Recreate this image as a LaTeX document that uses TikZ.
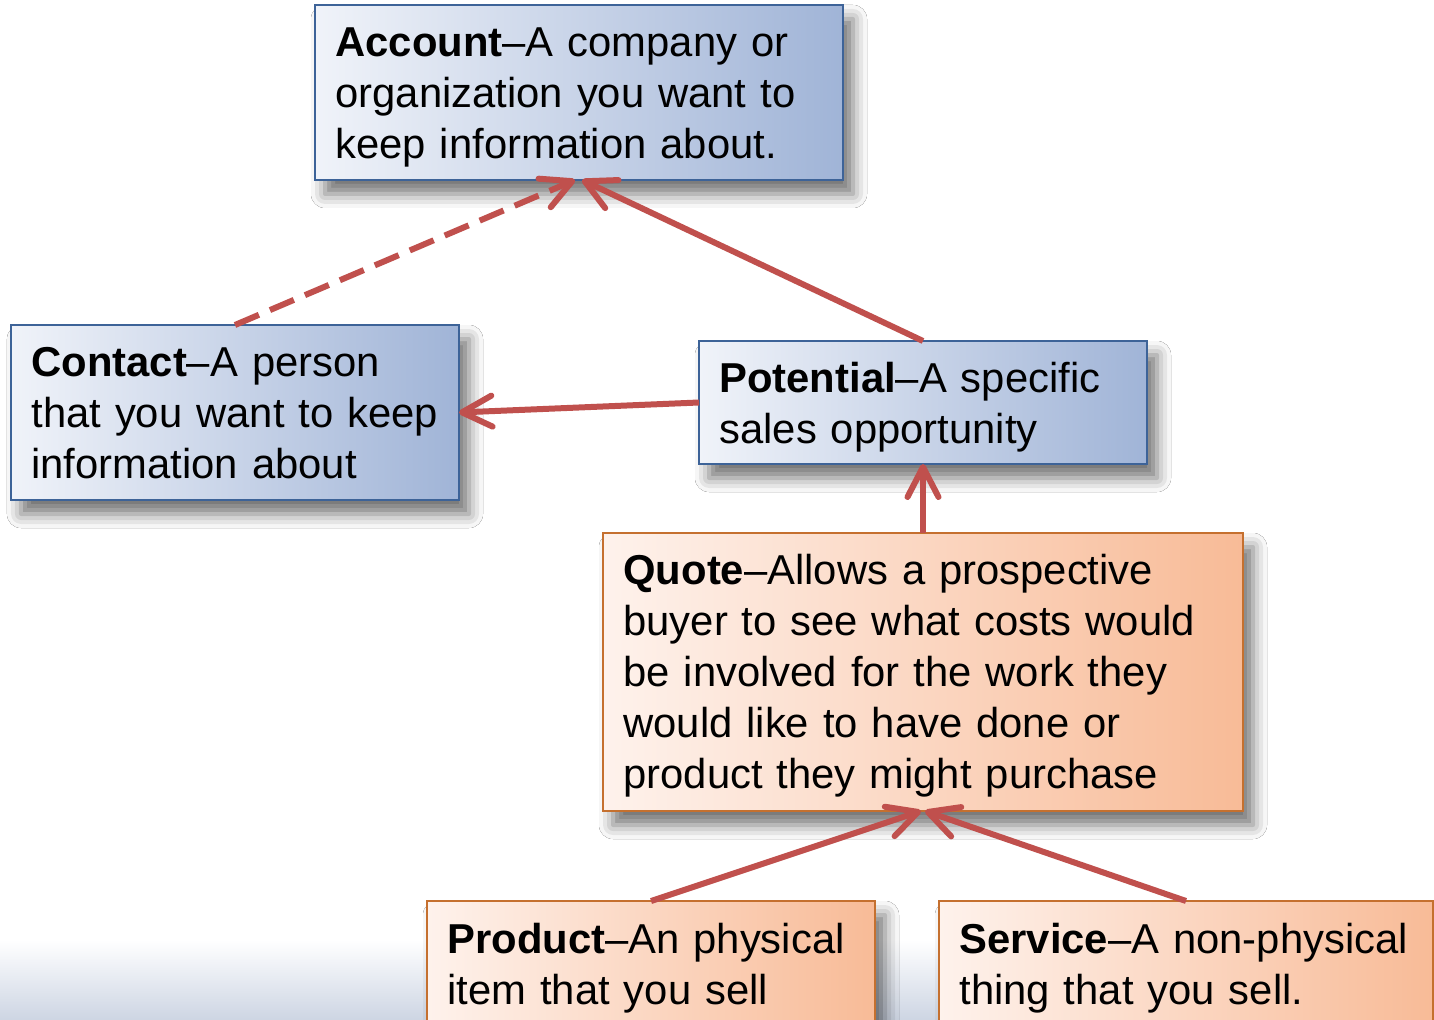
\documentclass[tikz,border=0pt]{standalone}
\usepackage{fontspec}
\setmainfont{Liberation Sans}
\usetikzlibrary{arrows.meta,calc,shadows.blur}
\definecolor{arrowred}{HTML}{C0504D}
\definecolor{blueborder}{HTML}{3D6398}
\definecolor{bluel}{HTML}{F0F3F9}
\definecolor{bluer}{HTML}{A0B4D7}
\definecolor{orangeborder}{HTML}{C5702F}
\definecolor{orangel}{HTML}{FEF2EC}
\definecolor{oranger}{HTML}{F8BB97}
\definecolor{bandcol}{HTML}{CDD5E3}
\begin{document}
\begin{tikzpicture}[x=0.5pt,y=-0.5pt,
  box/.style={draw, line width=1.2pt, anchor=north west, inner sep=0pt, outer sep=0pt,
    blur shadow={shadow xshift=5pt, shadow yshift=-7pt, shadow blur radius=7pt, shadow opacity=55}},
  bluebox/.style={box, draw=blueborder, left color=bluel, right color=bluer},
  orangebox/.style={box, draw=orangeborder, left color=orangel, right color=oranger},
  txt/.style={anchor=base west, align=left, text width=330pt, inner sep=0pt,
    font=\fontsize{20.9}{25.5}\selectfont},
  link/.style={draw=arrowred, line width=3pt, -{Straight Barb[length=15pt,width=15.5pt,round]}},
  dashlink/.style={link, dash pattern=on 13pt off 6pt},
]
\clip (0,0) rectangle (1434,1020);
\fill[white] (0,0) rectangle (1434,1020);
\shade[top color=white, bottom color=bandcol] (0,940) rectangle (1434,1020);

\node[bluebox, minimum width=264pt, minimum height=87.5pt] (account) at (315,5) {};
\node[bluebox, minimum width=224pt, minimum height=87.5pt] (contact) at (11,325) {};
\node[bluebox, minimum width=224pt, minimum height=61.5pt] (potential) at (699,341) {};
\node[orangebox, minimum width=320pt, minimum height=139pt] (quote) at (603,533) {};
\node[orangebox, minimum width=224pt, minimum height=80pt] (product) at (427,901) {};
\node[orangebox, minimum width=247pt, minimum height=80pt] (service) at (939,901) {};

\node[txt] (accounttext) at ($(account.north west)+(20,52)$)
  {\textbf{Account}–A company or\\organization you want to\\keep information about.};
\node[txt] (contacttext) at ($(contact.north west)+(20,52)$)
  {\textbf{Contact}–A person\\that you want to keep\\information about};
\node[txt] (potentialtext) at ($(potential.north west)+(20,52)$)
  {\textbf{Potential}–A specific\\sales opportunity};
\node[txt] (quotetext) at ($(quote.north west)+(20,52)$)
  {\textbf{Quote}–Allows a prospective\\buyer to see what costs would\\be involved for the work they\\would like to have done or\\product they might purchase};
\node[txt] (producttext) at ($(product.north west)+(20,52)$)
  {\textbf{Product}–An physical\\item that you sell};
\node[txt] (servicetext) at ($(service.north west)+(20,52)$)
  {\textbf{Service}–A non-physical\\thing that you sell.};

\draw[dashlink] (contact.north) -- ($(account.south)+(-4,0)$);
\draw[link] (potential.north) -- ($(account.south)+(3,0)$);
\draw[link] (potential.west) -- (contact.east);
\draw[link] (quote.north) -- (potential.south);
\draw[link] (product.north) -- ($(quote.south)+(-2,0)$);
\draw[link] (service.north) -- ($(quote.south)+(2,0)$);
\end{tikzpicture}
\end{document}
